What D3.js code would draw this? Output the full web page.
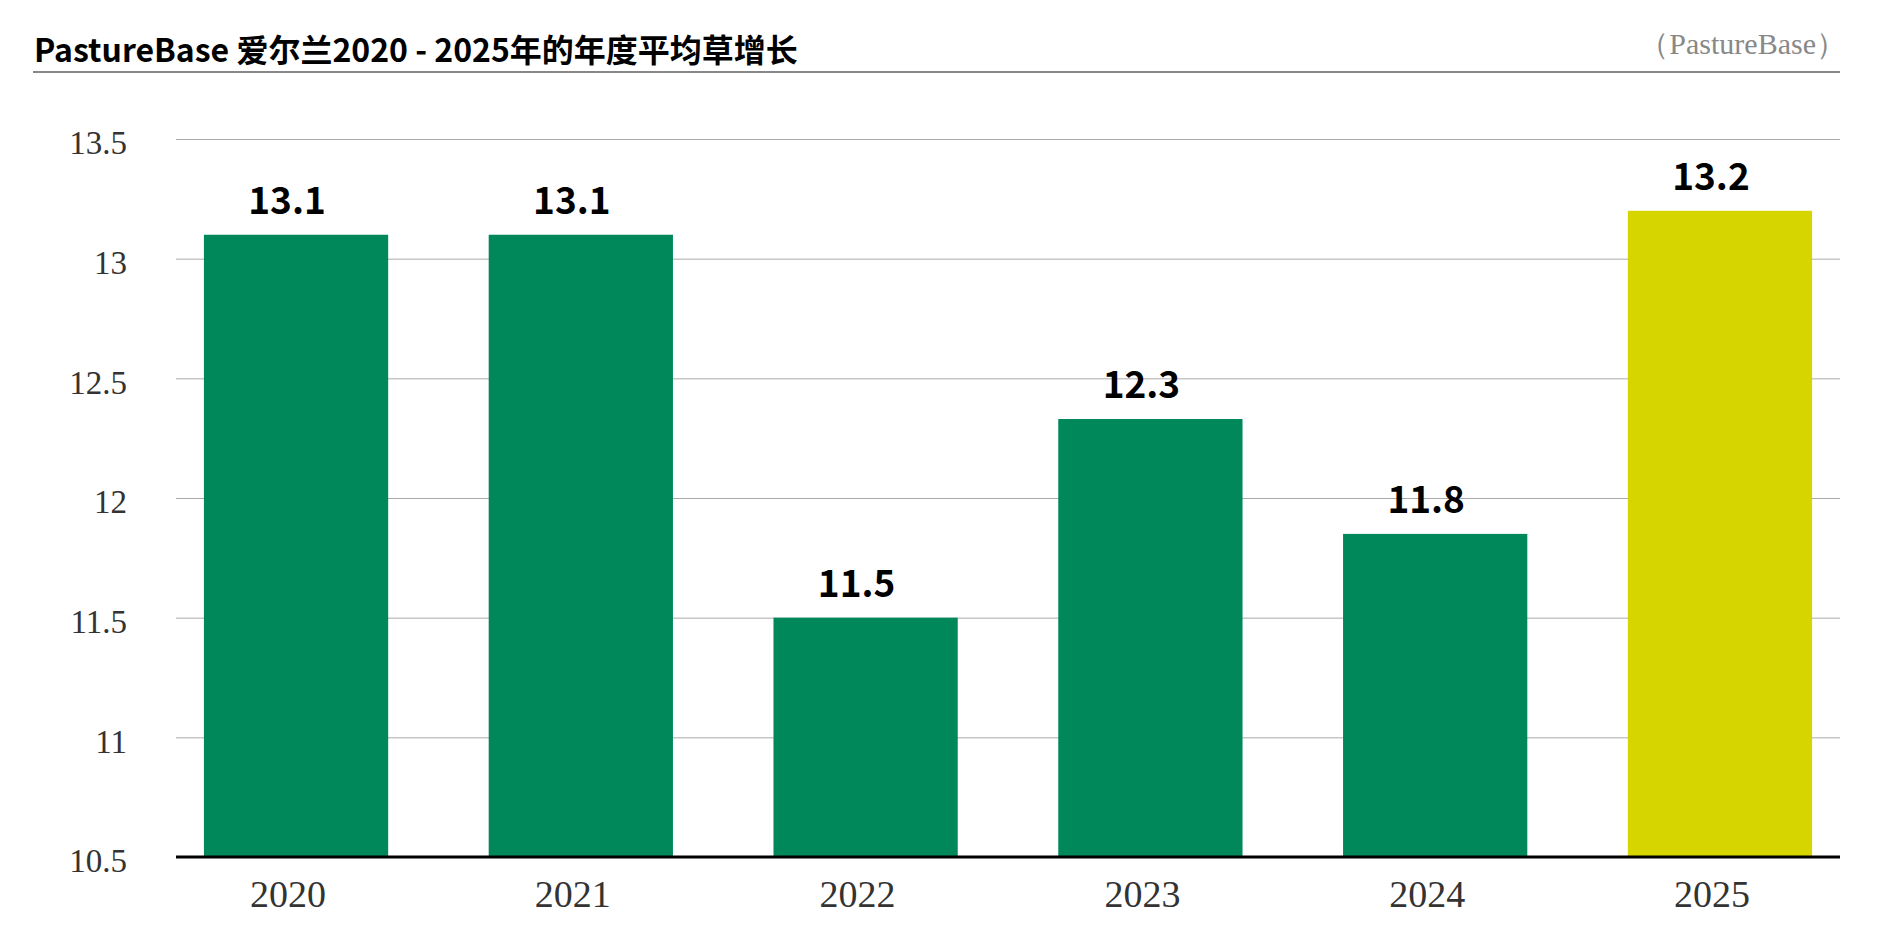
<!DOCTYPE html>
<html>
<head>
<meta charset="utf-8">
<script src="https://cdn.jsdelivr.net/npm/d3@7"></script>
<style>
  body { margin: 0; background: #fff; }
  svg { display: block; }
</style>
</head>
<body>
<div id="chart"></div>
<script>
// chart data
const years = ["2020", "2021", "2022", "2023", "2024", "2025"];
const growth = [13.1, 13.1, 11.5, 12.33, 11.85, 13.2];
const valueLabels = ["13.1", "13.1", "11.5", "12.3", "11.8", "13.2"];
const yTicks = [10.5, 11, 11.5, 12, 12.5, 13, 13.5];
const highlightYear = "2025";

const W = 1897, H = 944;
const margin = { top: 139, right: 57, bottom: 87, left: 176 };
const width = W - margin.left - margin.right;
const height = H - margin.top - margin.bottom;

const svg = d3.select("#chart")
    .append("svg")
    .attr("width", W)
    .attr("height", H);

// title + source
svg.append("text")
    .attr("x", 34)
    .attr("y", 62)
    .style("font-family", "'Noto Sans CJK SC', 'Noto Sans', sans-serif")
    .style("font-weight", "700")
    .style("font-size", "32px")
    .attr("fill", "#000")
    .text("PastureBase 爱尔兰2020 - 2025年的年度平均草增长");

svg.append("text")
    .attr("x", 1846)
    .attr("y", 54)
    .attr("text-anchor", "end")
    .style("font-family", "'Liberation Serif', serif")
    .style("font-size", "30px")
    .attr("fill", "#888")
    .text("（PastureBase）");

svg.append("line")
    .attr("x1", 33).attr("x2", 1840)
    .attr("y1", 72).attr("y2", 72)
    .attr("stroke", "#888")
    .attr("stroke-width", 2);

const g = svg.append("g")
    .attr("transform", "translate(" + margin.left + "," + margin.top + ")");

// scales
const x = d3.scaleBand()
    .domain(years)
    .range([0, width])
    .paddingInner(0.353)
    .paddingOuter(0.098);

const y = d3.scaleLinear()
    .domain([10.5, 13.5])
    .range([height, 0]);

// gridlines
g.append("g")
    .call(d3.axisLeft(y).tickValues(yTicks).tickSize(-width).tickFormat(""))
    .call(s => s.select(".domain").remove())
    .call(s => s.selectAll(".tick line").attr("stroke", "#aaa").attr("stroke-width", 1));

// y labels
g.append("g")
    .call(d3.axisLeft(y).tickValues(yTicks).tickSize(0).tickPadding(49).tickFormat(d => String(d)))
    .call(s => s.select(".domain").remove())
    .call(s => s.selectAll(".tick text")
        .attr("dy", "0.45em")
        .style("font-family", "'Liberation Serif', serif")
        .style("font-size", "33px")
        .attr("fill", "#333"));

// bars
g.selectAll(".bar")
    .data(years)
    .enter()
    .append("rect")
    .attr("class", "bar")
    .attr("x", d => x(d))
    .attr("y", (d, i) => y(growth[i]))
    .attr("width", x.bandwidth())
    .attr("height", (d, i) => height - y(growth[i]))
    .attr("fill", d => d === highlightYear ? "#d7d500" : "#00885b");

// value labels
g.selectAll(".val")
    .data(years)
    .enter()
    .append("text")
    .attr("class", "val")
    .attr("x", d => x(d) + x.bandwidth() / 2 - 9)
    .attr("y", (d, i) => y(growth[i]) - 21)
    .attr("text-anchor", "middle")
    .style("font-family", "'Noto Sans CJK SC', 'Noto Sans', sans-serif")
    .style("font-weight", "700")
    .style("font-size", "37px")
    .attr("fill", "#000")
    .text((d, i) => valueLabels[i]);

// x axis
g.append("g")
    .attr("transform", "translate(0," + height + ")")
    .call(d3.axisBottom(x).tickSize(0).tickPadding(0))
    .call(s => s.select(".domain").remove())
    .call(s => s.selectAll(".tick text")
        .attr("x", -8)
        .attr("y", 50)
        .attr("dy", 0)
        .style("font-family", "'Liberation Serif', serif")
        .style("font-size", "38px")
        .attr("fill", "#333"));

g.append("line")
    .attr("x1", 0).attr("x2", width)
    .attr("y1", height).attr("y2", height)
    .attr("stroke", "#000")
    .attr("stroke-width", 3);
</script>
</body>
</html>
